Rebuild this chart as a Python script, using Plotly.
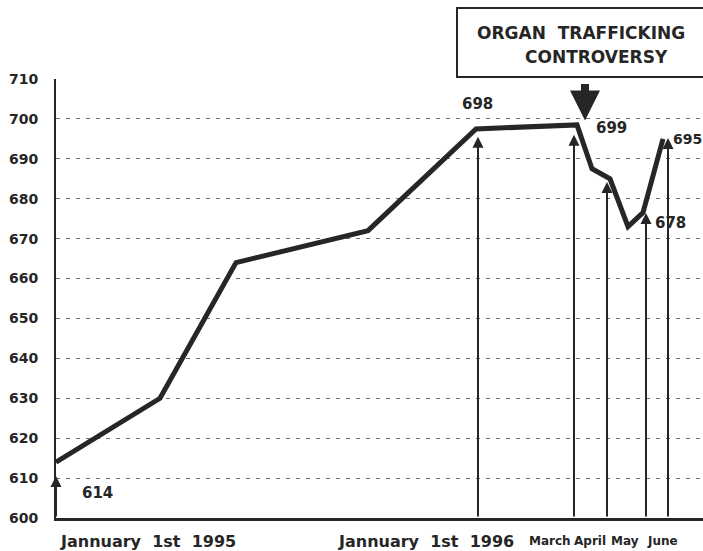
import plotly.graph_objects as go

# ---- data (timeline position along the axis, value) ----
timeline_pos = [0, 104, 180, 312, 420, 521, 536, 554, 572, 587, 607]
values = [614, 630, 664, 672, 697.5, 698.5, 687.5, 685, 673, 676.5, 695]

# vertical date markers (arrows)
marker_pos = [0, 422, 518, 551, 590, 612]
marker_top = [610.5, 695.5, 696, 684.2, 676.4, 695.2]

# value call-outs
callout_text = ["614", "698", "699", "678", "695"]
callout_pos = [41, 421, 555, 597, 615]
callout_val = [606.3, 703.8, 697.7, 673.9, 695.0]
callout_anchor = ["center", "center", "center", "left", "left"]
callout_size = [15, 15, 15, 15, 14]

# x labels
date_labels = ["Jannuary\u00a0\u00a01st\u00a0\u00a01995", "Jannuary\u00a0\u00a01st\u00a0\u00a01996",
               "March", "April", "May", "June"]
date_label_pos = [2, 280, 494, 534, 569, 606]
date_label_size = [16, 16, 12, 12, 12, 12]
date_label_anchor = ["left", "left", "center", "center", "center", "center"]

y_ticks = [600, 610, 620, 630, 640, 650, 660, 670, 680, 690, 700, 710]
y_tick_text = ["<b>%d</b>" % v for v in y_ticks]

event_title = "ORGAN\u00a0\u00a0TRAFFICKING"
event_title2 = "CONTROVERSY"
event_pos = 529
event_val = 699.6

INK = "#262626"
FONT = "DejaVu Sans"

fig = go.Figure()
fig.add_trace(go.Scatter(x=timeline_pos, y=values, mode="lines",
                         line=dict(color=INK, width=5), hoverinfo="skip"))

annotations = []
for xp, yt in zip(marker_pos, marker_top):
    annotations.append(dict(x=xp, y=yt, ax=xp, ay=600, xref="x", yref="y",
                            axref="x", ayref="y", text="", showarrow=True,
                            arrowhead=2, arrowsize=1.1, arrowwidth=2, arrowcolor=INK))
for t, xp, yv, anc, sz in zip(callout_text, callout_pos, callout_val, callout_anchor, callout_size):
    annotations.append(dict(x=xp, y=yv, xref="x", yref="y", text="<b>%s</b>" % t,
                            showarrow=False, xanchor=anc, yanchor="middle",
                            font=dict(family=FONT, size=sz, color=INK)))
for t, xp, sz, anc in zip(date_labels, date_label_pos, date_label_size, date_label_anchor):
    annotations.append(dict(x=xp, y=0, xref="x", yref="paper", text="<b>%s</b>" % t,
                            showarrow=False, xanchor=anc, yanchor="middle", yshift=-23,
                            font=dict(family=FONT, size=sz, color=INK)))
# event arrow
annotations.append(dict(x=event_pos, y=event_val, xref="x", yref="y", ax=0, ay=-38,
                        text="", showarrow=True, arrowhead=2, arrowsize=0.75,
                        arrowwidth=8, arrowcolor=INK))
# event box text
annotations.append(dict(x=525, y=1, xref="x", yref="paper", yshift=46, text="<b>%s</b>" % event_title,
                        showarrow=False, xanchor="center", yanchor="middle",
                        font=dict(family=FONT, size=17, color=INK)))
annotations.append(dict(x=540, y=1, xref="x", yref="paper", yshift=22, text="<b>%s</b>" % event_title2,
                        showarrow=False, xanchor="center", yanchor="middle",
                        font=dict(family=FONT, size=17, color=INK)))

fig.update_layout(
    width=703, height=551,
    margin=dict(l=56, r=0, t=79, b=33),
    paper_bgcolor="white", plot_bgcolor="white",
    showlegend=False,
    annotations=annotations,
    xaxis=dict(range=[0, 647], showgrid=False, zeroline=False, showticklabels=False,
               showline=True, linecolor=INK, linewidth=3, ticks=""),
    yaxis=dict(range=[600, 710], tickvals=y_ticks, ticktext=y_tick_text, showgrid=True,
               gridcolor="#6e6e6e", griddash="4px,6px", gridwidth=1, zeroline=False,
               showline=True, linecolor=INK, linewidth=2, ticks="", ticklabelstandoff=13,
               tickfont=dict(family=FONT, size=14, color=INK)),
)
fig.add_shape(type="rect", xref="x", yref="paper", x0=401, x1=660,
              ysizemode="pixel", yanchor=1, y0=2, y1=71,
              line=dict(color=INK, width=2), fillcolor="rgba(0,0,0,0)")

fig.write_html("out.html", config={"displayModeBar": False},
               post_script="document.body.style.margin='0';")
